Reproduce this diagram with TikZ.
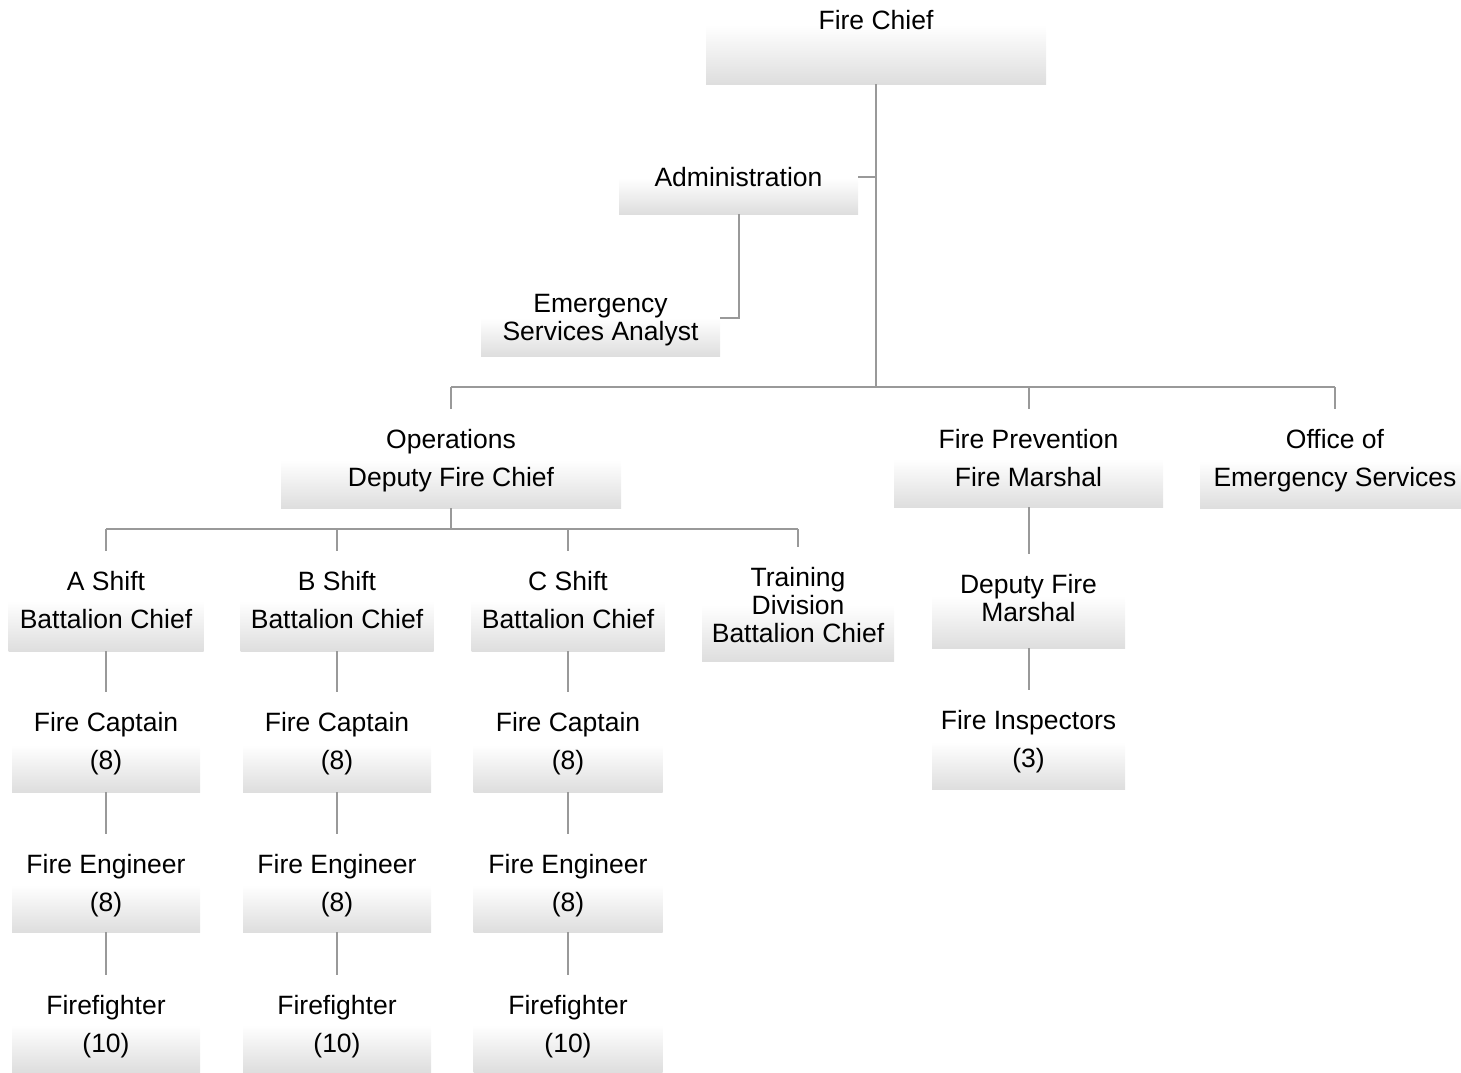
\documentclass[tikz,border=0pt]{standalone}
\usepackage{fontspec}
\setmainfont{Liberation Sans}

\begin{document}
\begin{tikzpicture}[
	x=1pt, y=-1pt,
	box/.style={
		rectangle, draw=none, inner sep=0pt,
		top color=white, bottom color=black!13
	},
	lbl/.style={
		align=center, inner sep=0pt,
		font=\fontsize{26.5}{38}\selectfont
	},
	tight/.style={lbl, font=\fontsize{26.5}{28}\selectfont},
	link/.style={draw=black!40, line width=2pt},
	drop/.style={link, shorten >=20pt},
	]
	\useasboundingbox (0,0) rectangle (1461,1072);

	% chief and staff
	\node[box, minimum width=340, minimum height=59] (chief) at (876,54.5) {};
	\node[lbl] (chief-t) at (876,20) {Fire Chief};
	\node[box, minimum width=239, minimum height=36] (admin) at (738.5,196) {};
	\node[lbl] (admin-t) at (738.5,177) {Administration};
	\node[box, minimum width=239, minimum height=38] (analyst) at (600.5,337) {};
	\node[tight] (analyst-t) at (600.5,320) {Emergency\\Services Analyst};

	% divisions
	\node[box, minimum width=340, minimum height=48] (ops) at (451,484) {};
	\node[lbl] (ops-t) at (451,461) {Operations\\Deputy Fire Chief};
	\node[box, minimum width=269, minimum height=48] (prev) at (1028.5,483) {};
	\node[lbl] (prev-t) at (1028.5,458) {Fire Prevention\\Fire Marshal};
	\node[box, minimum width=270, minimum height=47] (oes) at (1335,484.5) {};
	\node[lbl] (oes-t) at (1335,461) {Office of\\Emergency Services};

	% battalion chiefs
	\node[box, minimum width=195, minimum height=50] (shiftA) at (106,626) {};
	\node[lbl] (shiftA-t) at (106,600) {A Shift\\Battalion Chief};
	\node[box, minimum width=193, minimum height=50] (shiftB) at (337,626) {};
	\node[lbl] (shiftB-t) at (337,600) {B Shift\\Battalion Chief};
	\node[box, minimum width=193, minimum height=50] (shiftC) at (568,626) {};
	\node[lbl] (shiftC-t) at (568,600) {C Shift\\Battalion Chief};
	\node[box, minimum width=192, minimum height=56] (train) at (798,633) {};
	\node[tight] (train-t) at (798,605) {Training\\Division\\Battalion Chief};

	% prevention
	\node[box, minimum width=193, minimum height=52] (dfm) at (1028.5,622) {};
	\node[tight] (dfm-t) at (1028.5,598) {Deputy Fire\\Marshal};
	\node[box, minimum width=193, minimum height=47] (insp) at (1028.5,765.5) {};
	\node[lbl] (insp-t) at (1028.5,742) {Fire Inspectors\\(3)};

	% crews
	\node[box, minimum width=188, minimum height=47] (capA) at (106,768.5) {};
	\node[lbl] (capA-t) at (106,744) {Fire Captain\\(8)};
	\node[box, minimum width=188, minimum height=47] (capB) at (337,768.5) {};
	\node[lbl] (capB-t) at (337,744) {Fire Captain\\(8)};
	\node[box, minimum width=189, minimum height=47] (capC) at (568,768.5) {};
	\node[lbl] (capC-t) at (568,744) {Fire Captain\\(8)};
	\node[box, minimum width=188, minimum height=47] (engA) at (106,908.5) {};
	\node[lbl] (engA-t) at (106,886) {Fire Engineer\\(8)};
	\node[box, minimum width=188, minimum height=47] (engB) at (337,908.5) {};
	\node[lbl] (engB-t) at (337,886) {Fire Engineer\\(8)};
	\node[box, minimum width=189, minimum height=47] (engC) at (568,908.5) {};
	\node[lbl] (engC-t) at (568,886) {Fire Engineer\\(8)};
	\node[box, minimum width=188, minimum height=47] (ffA) at (106,1048.5) {};
	\node[lbl] (ffA-t) at (106,1027) {Firefighter\\(10)};
	\node[box, minimum width=188, minimum height=47] (ffB) at (337,1048.5) {};
	\node[lbl] (ffB-t) at (337,1027) {Firefighter\\(10)};
	\node[box, minimum width=189, minimum height=47] (ffC) at (568,1048.5) {};
	\node[lbl] (ffC-t) at (568,1027) {Firefighter\\(10)};

	\coordinate (bus) at (876,387);
	\coordinate (opsbus) at (451,529);

	\draw[link] (chief.south) -- (bus);
	\draw[link] (admin.east |- admin-t) -- (chief.south |- admin-t);
	\draw[link] (admin.south) |- (analyst.north east);
	\draw[link] (ops-t.north |- bus) -- (oes-t.north |- bus);
	\draw[drop] (ops-t.north |- bus) -- (ops-t.north);
	\draw[drop] (prev-t.north |- bus) -- (prev-t.north);
	\draw[drop] (oes-t.north |- bus) -- (oes-t.north);

	\draw[link] (ops.south) -- (opsbus);
	\draw[link] (shiftA-t.north |- opsbus) -- (train-t.north |- opsbus);
	\draw[drop] (shiftA-t.north |- opsbus) -- (shiftA-t.north);
	\draw[drop] (shiftB-t.north |- opsbus) -- (shiftB-t.north);
	\draw[drop] (shiftC-t.north |- opsbus) -- (shiftC-t.north);
	\draw[drop] (train-t.north |- opsbus) -- (train-t.north);

	\draw[drop] (prev.south) -- (dfm-t.north);
	\draw[drop] (dfm.south) -- (insp-t.north);

	\draw[drop] (shiftA.south) -- (capA-t.north);
	\draw[drop] (shiftB.south) -- (capB-t.north);
	\draw[drop] (shiftC.south) -- (capC-t.north);
	\draw[drop] (capA.south) -- (engA-t.north);
	\draw[drop] (capB.south) -- (engB-t.north);
	\draw[drop] (capC.south) -- (engC-t.north);
	\draw[drop] (engA.south) -- (ffA-t.north);
	\draw[drop] (engB.south) -- (ffB-t.north);
	\draw[drop] (engC.south) -- (ffC-t.north);
\end{tikzpicture}
\end{document}
